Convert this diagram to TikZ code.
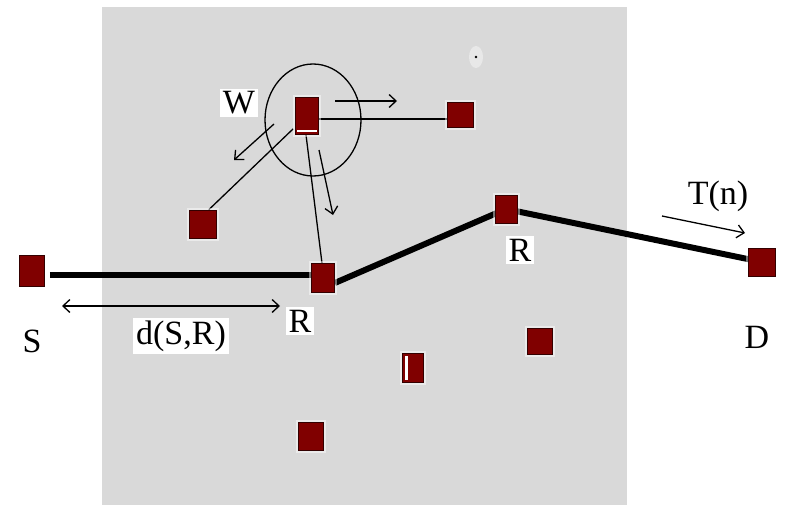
\documentclass[tikz,border=0pt]{standalone}
\usepackage{fontspec}
\setmainfont{Liberation Serif}
\usetikzlibrary{arrows.meta}
\pgfdeclarelayer{back}
\pgfdeclarelayer{edges}
\pgfsetlayers{back,edges,main}
\definecolor{nodered}{RGB}{128,0,0}
\definecolor{panelgray}{RGB}{217,217,217}
\begin{document}
\begin{tikzpicture}[x=1pt,y=-1pt,
  sq/.style={draw=black!60!nodered, fill=nodered, line width=0.6pt, inner sep=0pt,
    preaction={draw=white, draw opacity=0.45, line width=5pt}},
  lbl/.style={fill=white, inner xsep=3pt, inner ysep=3pt, font=\fontsize{34}{36}\selectfont},
  thinline/.style={line width=1.3pt},
  heavy/.style={line width=6pt},
  barb/.style={-{Straight Barb[length=7pt,width=13pt]}},
  dbarb/.style={{Straight Barb[length=7pt,width=13pt]}-{Straight Barb[length=7pt,width=13pt]}}]
\useasboundingbox (0,0) rectangle (789,505);
\begin{pgfonlayer}{back}
  \fill[panelgray] (102,7) rectangle (627,505);
  \fill[white, opacity=0.4] (476,57) ellipse [x radius=7, y radius=11];
\end{pgfonlayer}
\fill (476,57) circle (1.3);
% nodes
\node[sq, minimum width=25pt, minimum height=31pt] (S)  at (32,271)  {};
\node[sq, minimum width=23pt, minimum height=29pt] (R1) at (323,278) {};
\node[sq, minimum width=23pt, minimum height=37pt] (W)  at (307,116) {};
\node[sq, minimum width=26pt, minimum height=25pt] (N1) at (460,115) {};
\node[sq, minimum width=27pt, minimum height=28pt] (L)  at (203,224) {};
\node[sq, minimum width=22pt, minimum height=28pt] (R2) at (506,209) {};
\node[sq, minimum width=27pt, minimum height=28pt] (D)  at (762,262) {};
\node[sq, minimum width=21pt, minimum height=29pt] (M)  at (413,368) {};
\node[sq, minimum width=25pt, minimum height=26pt] (B1) at (540,341) {};
\node[sq, minimum width=25pt, minimum height=28pt] (B2) at (311,436) {};
\fill[white] ([xshift=2pt,yshift=2.5pt]W.south west) rectangle ([xshift=-2pt,yshift=4.5pt]W.south east);
\fill[white] ([xshift=3pt,yshift=3pt]M.south west) rectangle ([xshift=5.5pt,yshift=-3pt]M.north west);
% connectors
\begin{pgfonlayer}{edges}
  \draw[heavy] ([xshift=5pt,yshift=-4pt]S.east) -- ([yshift=3pt]R1.west);
  \draw[heavy] ([yshift=-5pt]R1.east) -- (R2.center) -- (D.center);
  \draw[thinline] ([yshift=-3pt]W.east) -- ([yshift=-4pt]N1.west);
  \draw[thinline] ([xshift=-2pt,yshift=6pt]W.south west) -- ([xshift=-8pt]L.north east);
  \draw[thinline] ([xshift=-1pt]W.south) -- ([xshift=-1pt]R1.north);
\end{pgfonlayer}
% range circle
\draw[thinline] (313,120) ellipse [x radius=48, y radius=56];
% motion arrows
\coordinate (a1s) at (335,101); \coordinate (a1e) at (397,101);
\coordinate (a2s) at (274,124); \coordinate (a2e) at (234,160);
\coordinate (a3s) at (319,150); \coordinate (a3e) at (333,215);
\coordinate (a4s) at (662,216); \coordinate (a4e) at (745,233);
\coordinate (dl) at (62,306);   \coordinate (dr) at (280,306);
\draw[thinline, barb] (a1s) -- (a1e);
\draw[thinline, barb] (a2s) -- (a2e);
\draw[thinline, barb] (a3s) -- (a3e);
\draw[thinline, barb] (a4s) -- (a4e);
\draw[thinline, dbarb] (dl) -- (dr);
% labels
\node[lbl] (tW)  at (239,103) {W};
\node[lbl] (tS)  at (32,341)  {S};
\node[lbl] (tDSR) at (181,336) {d(S,R)};
\node[lbl] (tR1) at (300,321) {R};
\node[lbl] (tR2) at (520,250) {R};
\node[lbl] (tT)  at (718,196) {T(n)};
\node[lbl] (tD)  at (757,337) {D};
\end{tikzpicture}
\end{document}
